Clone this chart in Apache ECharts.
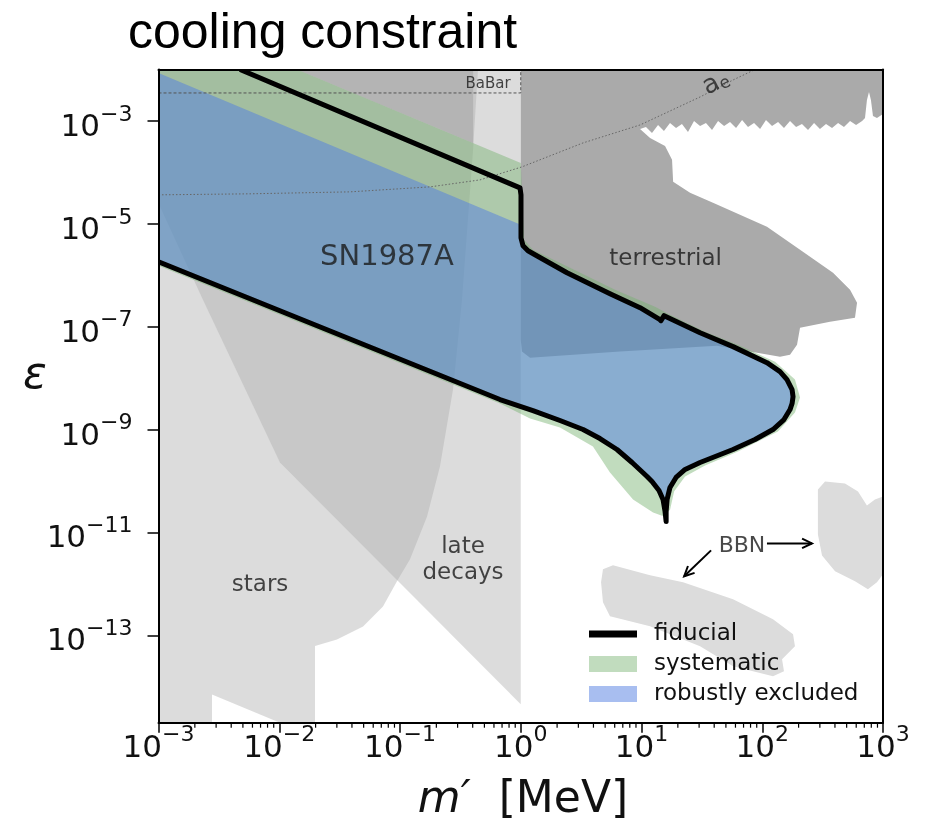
<!DOCTYPE html>
<html>
<head>
<meta charset="utf-8">
<script src="https://cdn.jsdelivr.net/npm/echarts@6/dist/echarts.min.js"></script>
<style>
  html, body { margin: 0; padding: 0; background: #fff; }
  #chart { width: 927px; height: 829px; }
</style>
</head>
<body>
<div id="chart"></div>
<script>
// All coordinates are [log10(m' / MeV), log10(epsilon)].

const xTickValues = [-3, -2, -1, 0, 1, 2, 3];
const yTickValues = [-13, -11, -9, -7, -5, -3];
const xRange = [-3, 3];
const yRange = [-14.7, -2];

// stellar cooling bound
const starsRegion = [
  [-3, -2], [-0.354, -2], [-0.395, -3.56], [-0.487, -6.48], [-0.561, -8.22],
  [-0.669, -9.72], [-0.776, -10.69], [-0.917, -11.52], [-1.025, -11.95],
  [-1.141, -12.44], [-1.306, -12.83], [-1.522, -13.08], [-1.704, -13.21],
  [-1.704, -14.7], [-1.994, -14.7], [-2.557, -14.15], [-2.557, -14.7], [-3, -14.7]
];

// late-decay bound (below 1 MeV)
const lateDecaysRegion = [
  [-3, -2], [0, -2], [0, -14.34], [-1.994, -9.64], [-2.631, -6.48], [-3, -4.6]
];

// low-mass beam-dump strip above the supernova band
const beamDumpRegion = [[-1.853, -2], [-0.395, -2], [-0.395, -3.43]];

// terrestrial (beam dump / collider) bounds
const terrestrialRegion = [
  [0, -2], [3, -2], [3, -2.864], [2.950, -2.942], [2.917, -2.903], [2.900, -2.592],
  [2.884, -2.437], [2.867, -2.592], [2.851, -2.942], [2.827, -3.0], [2.777, -3.078],
  [2.727, -3.0], [2.677, -3.117], [2.628, -3.039], [2.578, -3.136], [2.528, -3.058],
  [2.478, -3.155], [2.429, -3.039], [2.379, -3.175], [2.329, -3.058], [2.280, -3.117],
  [2.230, -3.0], [2.180, -3.136], [2.131, -3.019], [2.081, -3.097], [2.031, -2.981],
  [1.982, -3.155], [1.932, -3.039], [1.882, -3.117], [1.833, -2.981], [1.783, -3.136],
  [1.733, -3.019], [1.684, -3.097], [1.634, -3.0], [1.584, -3.175], [1.534, -3.039],
  [1.485, -3.097], [1.435, -3.0], [1.385, -3.214], [1.335, -3.058], [1.286, -3.136],
  [1.236, -3.039], [1.186, -3.194], [1.137, -3.078], [1.087, -3.233], [1.037, -3.117],
  [0.988, -3.155], [1.071, -3.33], [1.195, -3.485], [1.253, -3.757], [1.262, -4.184],
  [1.402, -4.398], [1.592, -4.592], [2.039, -5.058], [2.313, -5.505], [2.586, -5.951],
  [2.727, -6.282], [2.785, -6.534], [2.768, -6.825], [2.561, -6.903], [2.313, -7.019],
  [2.288, -7.35], [2.230, -7.544], [2.147, -7.583], [1.625, -7.369], [0.822, -7.485],
  [0.077, -7.602], [0.010, -7.485], [0, -7.252]
];

// BBN bounds
const bbnLowRegion = [
  [0.681, -11.718], [0.764, -11.641], [1.071, -11.835], [1.344, -11.971], [1.758, -12.301],
  [2.089, -12.689], [2.255, -12.981], [2.271, -13.214], [2.164, -13.466], [2.180, -13.699],
  [2.089, -13.796], [1.758, -13.602], [1.485, -13.214], [1.071, -12.825], [0.739, -12.631],
  [0.681, -12.359], [0.665, -11.971]
];
const bbnHighRegion = [
  [2.461, -10.165], [2.520, -10.010], [2.685, -10.049], [2.793, -10.204], [2.867, -10.476],
  [2.933, -10.359], [3, -10.301], [3, -11.816], [2.950, -11.971], [2.875, -12.107],
  [2.768, -11.951], [2.603, -11.757], [2.495, -11.447], [2.461, -11.039]
];

// SN1987A: systematic band
const systematicRegion = [
  [-3, -2], [-1.853, -2], [0, -3.816], [0.027, -5.311], [0.101, -5.505], [0.408, -5.854],
  [0.781, -6.282], [1.112, -6.612], [1.220, -6.748], [1.526, -7.097], [1.816, -7.369],
  [2.106, -7.68], [2.271, -8.029], [2.313, -8.379], [2.271, -8.67], [2.130, -9.039],
  [1.799, -9.427], [1.526, -9.699], [1.361, -9.913], [1.270, -10.204], [1.237, -10.553],
  [1.187, -10.689], [1.096, -10.612], [0.930, -10.359], [0.739, -9.835], [0.598, -9.33],
  [0.325, -8.961], [0.077, -8.786], [-0.172, -8.495], [-3, -5.816]
];

// SN1987A: fiducial contour
const fiducialLine = [
  [-2.325, -2], [-0.006, -4.301], [0.002, -4.437], [0.002, -5.272], [0.019, -5.427],
  [0.060, -5.524], [0.118, -5.602], [0.383, -5.951], [0.739, -6.359], [0.988, -6.631],
  [1.153, -6.864], [1.161, -6.883], [1.187, -6.786], [1.485, -7.117], [1.758, -7.388],
  [2.039, -7.70], [2.147, -7.874], [2.205, -8.03], [2.247, -8.223], [2.255, -8.359],
  [2.247, -8.495], [2.230, -8.612], [2.180, -8.806], [2.089, -9.0], [1.940, -9.194],
  [1.758, -9.388], [1.485, -9.641], [1.361, -9.777], [1.286, -9.932], [1.236, -10.126],
  [1.212, -10.359], [1.204, -10.592], [1.204, -10.786], [1.195, -10.592], [1.178, -10.359],
  [1.145, -10.184], [1.087, -10.010], [1.046, -9.913], [0.922, -9.641], [0.797, -9.388],
  [0.656, -9.175], [0.516, -9.0], [0.325, -8.825], [0.101, -8.631], [-0.172, -8.417],
  [-3, -5.738]
];

// SN1987A: robustly excluded
const robustRegion = [[-3, -2.068], [0, -5.02]].concat(fiducialLine.slice(3));

// other reference curves
const aeCurve = [
  [-3, -4.437], [-2.242, -4.417], [-1.414, -4.379], [-0.751, -4.282], [-0.337, -4.146],
  [0.010, -3.893], [0.516, -3.427], [0.988, -3.078], [1.485, -2.534], [1.758, -2.204],
  [1.940, -2]
];
const babarLine = [[-3, -2.456], [0, -2.456], [0, -2]];

const bbnArrows = [
  [[2.039, -11.214], [2.412, -11.214]],
  [[1.576, -11.35], [1.353, -11.854]]
];

// region labels: [x, y, text, font size]
const regionLabels = [
  [-1.108, -5.66, 'SN1987A', 29],
  [1.20, -5.68, 'terrestrial', 23],
  [-2.159, -12.03, 'stars', 23],
  [-0.478, -11.544, 'late\ndecays', 23],
  [1.832, -11.272, 'BBN', 22],
  [-0.271, -2.282, 'BaBar', 15]
];
const aeLabel = [1.617, -2.262];

// log-spaced minor ticks on the mass axis
const minorTickValues = [];
for (let d = xRange[0]; d < xRange[1]; d++) {
  for (let k = 2; k <= 9; k++) minorTickValues.push(d + Math.log10(k));
}

const greenFill = 'rgba(118,178,111,0.45)';
const blueFill = 'rgba(81,125,225,0.5)';
const lightGray = 'rgba(173,173,173,0.43)';
const FONT = '"DejaVu Sans", sans-serif';

function polygonSeries(name, pts, fill, z) {
  return {
    type: 'custom', name: name, z: z, clip: true, silent: true,
    data: pts, encode: { x: 0, y: 1 },
    renderItem: function (params, api) {
      if (params.dataIndex !== 0) return null;
      return {
        type: 'polygon',
        shape: { points: pts.map(function (p) { return api.coord(p); }) },
        style: { fill: fill }
      };
    }
  };
}

function polylineSeries(name, pts, style, z) {
  return {
    type: 'custom', name: name, z: z, clip: true, silent: true,
    data: pts, encode: { x: 0, y: 1 },
    renderItem: function (params, api) {
      if (params.dataIndex !== 0) return null;
      return {
        type: 'polyline',
        shape: { points: pts.map(function (p) { return api.coord(p); }) },
        style: Object.assign({ fill: null }, style)
      };
    }
  };
}

function powLabel(v) {
  const e = v < 0 ? '\u2212' + Math.abs(v) : String(v);
  return '{b|10}{s|' + e + '}';
}
const richPow = {
  b: { fontFamily: FONT, fontSize: 31, color: '#111', lineHeight: 31, padding: [14, 0, 0, 0] },
  s: { fontFamily: FONT, fontSize: 22, color: '#111', lineHeight: 34, verticalAlign: 'top' }
};

const chart = echarts.init(document.getElementById('chart'), null, { renderer: 'canvas' });

const option = {
  animation: false,
  backgroundColor: '#fff',
  grid: { left: 158.5, top: 69.5, right: 44, bottom: 106.3, containLabel: false },
  xAxis: [
    {
      type: 'value', min: xRange[0], max: xRange[1], interval: 1, position: 'bottom', z: 50,
      axisLine: { show: true, onZero: false, lineStyle: { color: '#000', width: 2 } },
      axisTick: { show: true, length: 10, lineStyle: { color: '#000', width: 1.5 } },
      axisLabel: { formatter: powLabel, margin: 2, rich: richPow },
      splitLine: { show: false }
    },
    {
      type: 'value', min: xRange[0], max: xRange[1], position: 'top', z: 50,
      axisLine: { show: true, onZero: false, lineStyle: { color: '#000', width: 2 } },
      axisTick: { show: false }, axisLabel: { show: false }, splitLine: { show: false }
    }
  ],
  yAxis: [
    {
      type: 'value', min: yRange[0], max: yRange[1], position: 'left', z: 50,
      axisLine: { show: true, onZero: false, lineStyle: { color: '#000', width: 2 } },
      axisTick: { show: true, length: 11, customValues: yTickValues, lineStyle: { color: '#000', width: 1.5 } },
      axisLabel: { customValues: yTickValues, formatter: powLabel, margin: 26, rich: richPow },
      splitLine: { show: false }
    },
    {
      type: 'value', min: yRange[0], max: yRange[1], position: 'right', z: 50,
      axisLine: { show: true, onZero: false, lineStyle: { color: '#000', width: 2 } },
      axisTick: { show: false }, axisLabel: { show: false }, splitLine: { show: false }
    }
  ],
  legend: {
    left: 584, top: 614, orient: 'vertical',
    itemWidth: 48, itemHeight: 16, itemGap: 0, selectedMode: false,
    textStyle: { fontFamily: FONT, fontSize: 23, color: '#111', lineHeight: 30, padding: [0, 0, 0, 12] },
    data: [
      { name: 'fiducial', icon: 'path://M0,0H48V7H0Z', itemStyle: { color: '#000' } },
      { name: 'systematic', icon: 'rect', itemStyle: { color: greenFill } },
      { name: 'robustly excluded', icon: 'rect', itemStyle: { color: blueFill } }
    ]
  },
  graphic: [
    { type: 'text', left: 128, top: 9, style: { text: 'cooling constraint', font: '50px "Liberation Sans", sans-serif', fill: '#000' } },
    { type: 'text', x: 35, y: 377, style: { text: '\u03b5', font: 'italic 44px "DejaVu Sans", sans-serif', fill: '#111', align: 'center', verticalAlign: 'middle' } },
    {
      type: 'text', x: 523, y: 801,
      style: {
        text: '{i|m\u2032}  [MeV]', font: '44px "DejaVu Sans", sans-serif', fill: '#111',
        align: 'center', verticalAlign: 'middle',
        rich: { i: { font: 'italic 44px "DejaVu Sans", sans-serif', fill: '#111' } }
      }
    }
  ],
  series: [
    polygonSeries('stars', starsRegion, lightGray, 1),
    polygonSeries('late decays', lateDecaysRegion, lightGray, 1),
    polygonSeries('beam dump', beamDumpRegion, 'rgba(120,120,120,0.25)', 1),
    polygonSeries('terrestrial', terrestrialRegion, '#aaaaaa', 2),
    polygonSeries('BBN low', bbnLowRegion, '#dcdcdc', 2),
    polygonSeries('BBN high', bbnHighRegion, '#dcdcdc', 2),
    polygonSeries('systematic', systematicRegion, greenFill, 3),
    polygonSeries('robustly excluded', robustRegion, blueFill, 4),
    polylineSeries('BaBar', babarLine, { stroke: '#555', lineWidth: 1, lineDash: [3, 2] }, 5),
    polylineSeries('a_e', aeCurve, { stroke: '#666', lineWidth: 1, lineDash: [1.5, 2] }, 5),
    polylineSeries('fiducial', fiducialLine, { stroke: '#000', lineWidth: 5, lineJoin: 'round' }, 6),
    {
      type: 'custom', name: 'BBN arrows', z: 7, clip: true, silent: true,
      data: bbnArrows.map(function (a, i) { return [a[1][0], a[1][1], i]; }),
      encode: { x: 0, y: 1 },
      renderItem: function (params, api) {
        const a = bbnArrows[params.dataIndex];
        const p0 = api.coord(a[0]);
        const p1 = api.coord(a[1]);
        const ang = Math.atan2(p1[1] - p0[1], p1[0] - p0[0]);
        const len = 11, spread = Math.PI / 7;
        const h1 = [p1[0] - len * Math.cos(ang - spread), p1[1] - len * Math.sin(ang - spread)];
        const h2 = [p1[0] - len * Math.cos(ang + spread), p1[1] - len * Math.sin(ang + spread)];
        return {
          type: 'group',
          children: [
            { type: 'line', shape: { x1: p0[0], y1: p0[1], x2: p1[0], y2: p1[1] }, style: { stroke: '#000', lineWidth: 2 } },
            { type: 'polyline', shape: { points: [h1, p1, h2] }, style: { stroke: '#000', lineWidth: 2, fill: null } }
          ]
        };
      }
    },
    {
      type: 'scatter', name: 'labels', z: 8, silent: true, symbolSize: 0,
      data: regionLabels.map(function (l) {
        return {
          value: [l[0], l[1]],
          label: {
            show: true, position: 'inside', formatter: l[2], fontFamily: FONT,
            fontSize: l[3], color: '#1a1a1a', lineHeight: Math.round(l[3] * 1.15), align: 'center'
          }
        };
      }).concat([{
        value: aeLabel,
        label: {
          show: true, position: 'inside', rotate: 27, formatter: '{a|a}{e|e}',
          rich: {
            a: { fontFamily: FONT, fontSize: 26, color: '#222' },
            e: { fontFamily: FONT, fontSize: 17, color: '#222', verticalAlign: 'bottom' }
          }
        }
      }])
    },
    {
      type: 'custom', name: 'minor ticks', z: 60, clip: false, silent: true,
      data: minorTickValues.map(function (v) { return [v, yRange[0]]; }),
      encode: { x: 0, y: 1 },
      renderItem: function (params, api) {
        const p = api.coord([api.value(0), yRange[0]]);
        return {
          type: 'line',
          shape: { x1: p[0], y1: p[1], x2: p[0], y2: p[1] + 5 },
          style: { stroke: '#000', lineWidth: 1.2 }
        };
      }
    }
  ]
};

chart.setOption(option);
</script>
</body>
</html>
